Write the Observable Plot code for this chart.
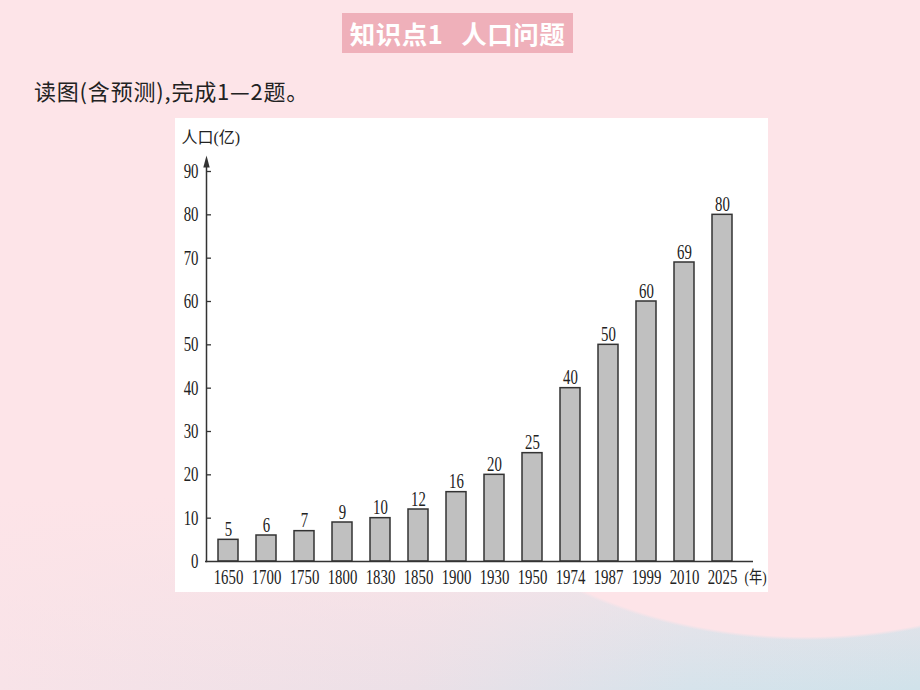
<!DOCTYPE html>
<html>
<head>
<meta charset="utf-8">
<script src="https://cdn.jsdelivr.net/npm/d3@7"></script>
<script src="https://cdn.jsdelivr.net/npm/@observablehq/plot@0.6"></script>
<style>
  html, body { margin: 0; padding: 0; }
  body {
    width: 920px; height: 690px; position: relative; overflow: hidden;
    font-family: "Noto Sans CJK SC", sans-serif;
    background:
      radial-gradient(ellipse 440px 335px at 805px 305px, #fde4e8 0, #fde4e8 99%, rgba(253,228,232,0) 100%),
      linear-gradient(to bottom, #fde4e8 0%, #fde4e8 72%, rgba(253,228,232,0) 100%),
      linear-gradient(to right, #f8e3e8 0%, #ece0e7 45%, #d6e3eb 75%, #d0e2ea 100%);
  }
  #title {
    position: absolute; left: 342px; top: 13px; width: 231px; height: 40px;
    background: #efb0ba; color: #fff; font-weight: bold; font-size: 25.5px;
    line-height: 40px; text-align: center; white-space: nowrap; letter-spacing: 0.5px;
  }
  #title .gap { display: inline-block; width: 18px; }
  #subtitle {
    position: absolute; left: 34px; top: 75px; font-size: 22px; color: #222;
    white-space: nowrap; line-height: 30px; letter-spacing: 0.8px;
  }
  #chart {
    position: absolute; left: 175px; top: 118px; width: 593px; height: 474px;
    background: #fff;
  }
  #chart svg { display: block; overflow: visible; }
</style>
</head>
<body>
<div id="title">知识点1<span class="gap"></span>人口问题</div>
<div id="subtitle">读图(含预测),完成1—2题。</div>
<div id="chart"></div>
<script>
const years = ["1650", "1700", "1750", "1800", "1830", "1850", "1900", "1930", "1950", "1974", "1987", "1999", "2010", "2025"];
const population = [5, 6, 7, 9, 10, 12, 16, 20, 25, 40, 50, 60, 69, 80];
const yTicks = [0, 10, 20, 30, 40, 50, 60, 70, 80, 90];
const yAxisLabel = "人口(亿)";
const xAxisUnit = "(年)";

const data = years.map((year, i) => ({year, value: population[i]}));
const ink = "#333";
const serif = "'Liberation Serif', 'Times New Roman', 'Noto Sans CJK SC', serif";

const plot = Plot.plot({
  width: 593,
  height: 474,
  marginTop: 53,
  marginBottom: 31,
  marginLeft: 31,
  marginRight: 15,
  style: {background: "transparent", fontFamily: serif, fontSize: "20px", color: "#222"},
  x: {domain: years, range: [32.6, 566.6], paddingInner: 0.476, paddingOuter: 0.238},
  y: {domain: [0, 90]},
  marks: [
    Plot.barY(data, {x: "year", y: "value", fill: "#c0c0c0", stroke: ink, strokeWidth: 1.5}),
    Plot.ruleY([0], {stroke: ink, strokeWidth: 1.5, insetLeft: -1}),
    Plot.frame({anchor: "left", insetTop: -11, stroke: ink, strokeWidth: 1.5}),
    Plot.vector([null], {frameAnchor: "top-left", shape: "spike", length: 12, r: 3.2, dy: -10, fill: ink, stroke: "none"}),
    Plot.axisY({ticks: yTicks, tickSize: 0, tickPadding: 8, label: null, fontSize: 20}),
    Plot.axisY({ticks: yTicks.filter(d => d > 0), tickSize: 5, dx: 5, text: null, label: null, stroke: ink, strokeWidth: 1.3}),
    Plot.axisX({tickSize: 0, tickPadding: 8, label: null, fontSize: 20}),
    Plot.text(data, {x: "year", y: "value", text: d => String(d.value), lineAnchor: "bottom", dy: -4, fontSize: 20, fill: "#222"}),
    Plot.text([yAxisLabel], {frameAnchor: "top-left", text: d => d, textAnchor: "start", lineAnchor: "middle", dx: -25, dy: -34, fontSize: 16, fill: "#222"}),
    Plot.text([xAxisUnit], {frameAnchor: "bottom-right", text: d => d, textAnchor: "start", lineAnchor: "middle", dx: -9, dy: 16, fontSize: 17, fill: "#222"})
  ]
});

document.getElementById("chart").appendChild(plot);

// condense the serif labels horizontally, as in the reference
plot.querySelectorAll("text").forEach(el => {
  const s = el.textContent.trim();
  let k = 0;
  if (/^\d+$/.test(s)) k = 0.74;
  else if (s === xAxisUnit) k = 0.78;
  if (k) {
    const L = el.getComputedTextLength();
    el.setAttribute("textLength", (L * k).toFixed(2));
    el.setAttribute("lengthAdjust", "spacingAndGlyphs");
  }
});
</script>
</body>
</html>
